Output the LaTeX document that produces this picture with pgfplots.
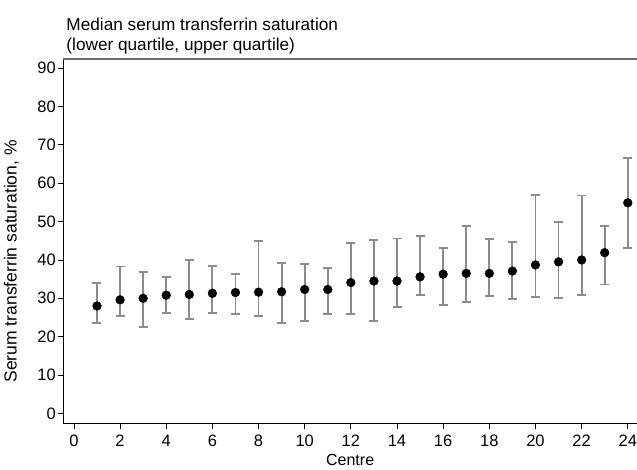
\documentclass[border=0pt]{standalone}
\usepackage{fontspec}
\setmainfont{Liberation Sans}
\usepackage{pgfplots}
\usepackage{pgfplotstable}
\pgfplotsset{compat=1.18}

\definecolor{bargray}{RGB}{140,140,140}
\definecolor{topgray}{RGB}{110,110,110}

% centre, median, lower quartile, upper quartile
\pgfplotstableread{
x  med   lo    hi
1  28.0  23.6  33.9
2  29.6  25.5  38.3
3  30.0  22.4  36.9
4  30.8  26.1  35.6
5  31.0  24.5  40.1
6  31.3  26.2  38.5
7  31.5  25.9  36.3
8  31.6  25.5  45.0
9  31.7  23.6  39.3
10 32.3  24.0  39.0
11 32.3  26.0  37.8
12 34.1  25.8  44.4
13 34.5  24.1  45.1
14 34.5  27.8  45.6
15 35.6  30.8  46.3
16 36.3  28.3  43.2
17 36.5  29.0  48.9
18 36.5  30.5  45.4
19 37.1  29.7  44.6
20 38.7  30.3  57.0
21 39.5  30.0  49.8
22 40.0  30.8  56.8
23 41.9  33.6  48.9
24 54.9  43.2  66.7
}\tsat

\begin{document}
\begin{tikzpicture}
\begin{axis}[
    at={(0,0)}, anchor=south west,
    scale only axis,
    width=573.7pt, height=364.7pt,
    xmin=-0.46, xmax=24.4,
    ymin=-2.7, ymax=92.4,
    xtick={0,2,...,24},
    ytick={0,10,...,90},
    xtick pos=bottom, ytick pos=left,
    tick align=outside,
    major tick length=5pt,
    tick style={black, line width=0.8pt},
    axis line style={draw=none},
    ticklabel style={font=\fontsize{16.5}{19}\selectfont},
    xticklabel style={yshift=-3pt},
    yticklabel style={xshift=1pt},
    /pgf/number format/assume math mode=true,
    xlabel={Centre},
    ylabel={Serum transferrin saturation, \%},
    xlabel style={font=\fontsize{16}{18}\selectfont,
        at={(rel axis cs:0.5,0)}, anchor=center, yshift=-36pt},
    ylabel style={font=\fontsize{17.5}{20}\selectfont,
        at={(rel axis cs:-0.0906,0.445)}, anchor=center},
    clip=false,
]
\draw[black, line width=1pt] (rel axis cs:0,1) -- (rel axis cs:0,0) -- (rel axis cs:1,0);
\draw[topgray, line width=1.2pt] (rel axis cs:0,1) -- (rel axis cs:1,1);

\addplot[
    only marks,
    mark=*, mark size=4.4pt,
    mark options={fill=black, draw=black},
    error bars/.cd,
        y dir=both, y explicit,
        error bar style={bargray, line width=1.9pt},
        error mark options={rotate=90, bargray, mark size=4.5pt, line width=1.9pt},
] table[
    x=x, y=med,
    y error plus expr=\thisrow{hi}-\thisrow{med},
    y error minus expr=\thisrow{med}-\thisrow{lo},
] {\tsat};

\node[anchor=south west, align=left, inner sep=0pt,
      font=\fontsize{17.2}{20}\selectfont]
    at (rel axis cs:0,1) [xshift=3pt, yshift=5pt]
    {Median serum transferrin saturation\\(lower quartile, upper quartile)};
\end{axis}
\pgfresetboundingbox
\path[use as bounding box] (-63.3pt,-46.3pt) rectangle (573.7pt,423.7pt);
\end{tikzpicture}
\end{document}
